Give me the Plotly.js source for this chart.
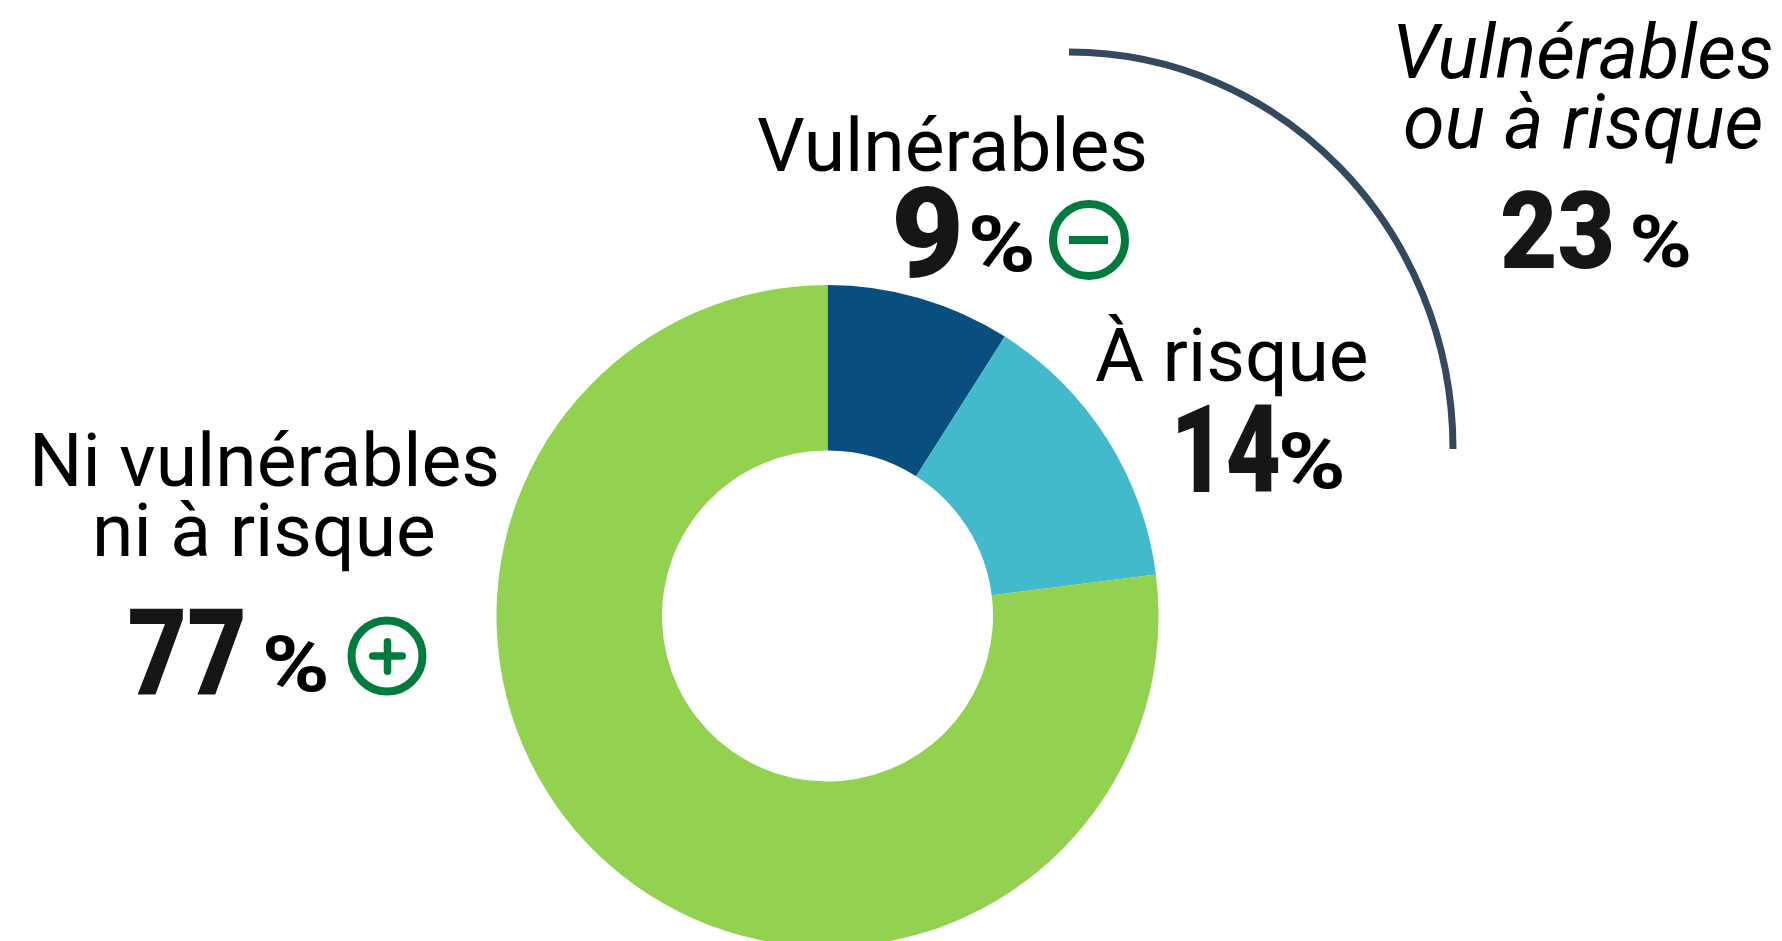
<!DOCTYPE html>
<html lang="fr"><head><meta charset="utf-8">
<style>html,body{margin:0;padding:0;background:#fff;overflow:hidden;width:1782px;height:941px}</style>
<script src="https://cdn.plot.ly/plotly-3.0.1.min.js"></script></head>
<body><div id="chart"></div>
<script>
const categories = ["Vulnérables", "À risque", "Ni vulnérables ni à risque"];
const seriesValues = [9, 14, 77];
const sliceColors = ["#084f80", "#42bacc", "#92d250"];
const combinedLabel = ["Vulnérables", "ou à risque"];
const combinedValue = 23;

const W = 1782, H = 960;
const px = x => x / W, py = y => 1 - y / H;
const cx = 827.5, cy = 616, R = 331;
const INK = "#161616", GREEN = "#007a3d";

function label(text, xc, base, size, italic) {
  return {text, xref:"paper", yref:"paper", x:px(xc), y:py(base - 0.34*size), xanchor:"center", yanchor:"middle",
    showarrow:false, borderpad:0, font:{family:"Roboto", size, color:"#000", style: italic?"italic":"normal"}};
}
function big(text, xc, base, size, color, weight) {
  return {text, xref:"paper", yref:"paper", x:px(xc), y:py(base - 0.34*size), xanchor:"center", yanchor:"middle",
    showarrow:false, borderpad:0, font:{family:"Roboto", size, color:color||INK, weight:weight||900}};
}
const pct = v => String(v);
const annotations = [
  label(categories[0], 952, 170, 75),
  big(pct(seriesValues[0]), 928, 277, 126),
  big("%", 1002, 271, 78, "#000", 700),
  label(categories[1], 1232, 380, 75),
  big(pct(seriesValues[1]), 1225, 492, 122),
  big("%", 1312, 488, 78, "#000", 700),
  label("Ni vulnérables", 264.5, 485, 75),
  label("ni à risque", 264, 555, 75),
  big(pct(seriesValues[2]), 187, 695, 121),
  big("%", 296, 691, 78, "#000", 700),
  label(combinedLabel[0], 1583, 78, 75.5, true),
  label(combinedLabel[1], 1583, 148, 75.5, true),
  big(pct(combinedValue), 1557, 268, 108),
  big("%", 1660, 267, 72, "#000", 700)
];
// horizontal squeeze / stretch of the display numerals, to mimic the reference's typeface
const textScale = {2:1.18, 4:0.78, 5:1.18, 8:0.85, 9:1.18, 12:0.92, 13:1.18};

function circle(x, y, r) {
  return {type:"circle", xref:"paper", yref:"paper", x0:px(x-r), x1:px(x+r), y0:py(y+r), y1:py(y-r),
    line:{color:GREEN, width:8}, fillcolor:"rgba(0,0,0,0)"};
}
function bar(x0, y0, x1, y1, t) {
  const h = t/2, r = h;
  const horiz = y0 === y1;
  const [l, rr, top, bot] = horiz ? [x0, x1, y0-h, y0+h] : [x0-h, x0+h, y0, y1];
  const q = (x,y) => `${px(x)} ${py(y)}`;
  return {type:"path", xref:"paper", yref:"paper", fillcolor:GREEN, line:{width:0},
    path:`M ${q(l+r,top)} L ${q(rr-r,top)} Q ${q(rr,top)} ${q(rr,top+r)} L ${q(rr,bot-r)} Q ${q(rr,bot)} ${q(rr-r,bot)} L ${q(l+r,bot)} Q ${q(l,bot)} ${q(l,bot-r)} L ${q(l,top+r)} Q ${q(l,top)} ${q(l+r,top)} Z`};
}
const K = 0.5523;
const ax = 1069, ay = 52, bx = 1453, by = 449;
const arc = {type:"path", xref:"paper", yref:"paper", line:{color:"#34495e", width:7},
  path:`M ${px(ax)} ${py(ay)} C ${px(ax+(bx-ax)*K)} ${py(ay)}, ${px(bx)} ${py(by-(by-ay)*K)}, ${px(bx)} ${py(by)}`};

const shapes = [arc,
  circle(1089, 240, 36),
  {type:"line", xref:"paper", yref:"paper", x0:px(1069), x1:px(1108), y0:py(240), y1:py(240), line:{color:GREEN, width:8}},
  circle(387, 656, 35.5), bar(369, 656, 406, 656, 7.5), bar(387.5, 638, 387.5, 675, 7.5)
];

Plotly.newPlot("chart", [{
  type:"pie", labels:categories, values:seriesValues, hole:0.5, sort:false, direction:"clockwise", rotation:0,
  marker:{colors:sliceColors, line:{width:0}}, textinfo:"none", hoverinfo:"label+percent",
  domain:{x:[px(cx-R), px(cx+R)], y:[py(cy+R), py(cy-R)]}
}], {
  width:W, height:H, margin:{l:0,r:0,t:0,b:0}, showlegend:false, paper_bgcolor:"#fff", annotations, shapes
}, {displayModeBar:false, staticPlot:true}).then(() => {
  document.querySelectorAll("#chart .annotation").forEach((g, i) => {
    const s = textScale[i], t = g.querySelector("text");
    if (s && t) {
      t.setAttribute("textLength", t.getComputedTextLength() * s);
      t.setAttribute("lengthAdjust", "spacingAndGlyphs");
    }
  });
});
</script></body></html>
